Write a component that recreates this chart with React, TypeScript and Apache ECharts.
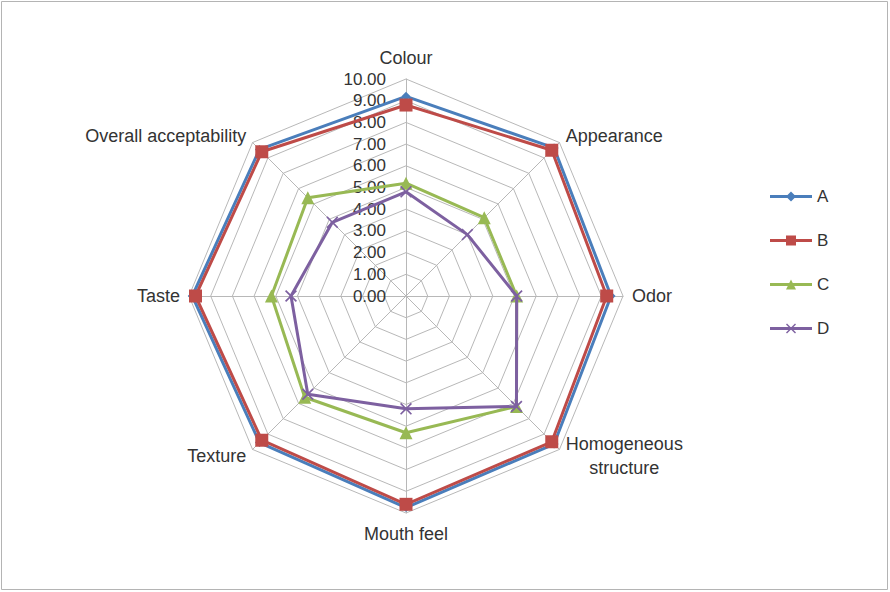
import React, { useEffect, useRef } from "react";
import * as echarts from "echarts";

// Sensory attributes, listed clockwise starting from the top
const categories = [
  "Colour",
  "Appearance",
  "Odor",
  "Homogeneous structure",
  "Mouth feel",
  "Texture",
  "Taste",
  "Overall acceptability",
];

const seriesNames = ["A", "B", "C", "D"];
const valuesA = [9.2, 9.65, 9.45, 9.65, 9.75, 9.55, 9.85, 9.55];
const valuesB = [8.8, 9.5, 9.25, 9.5, 9.6, 9.4, 9.7, 9.4];
const valuesC = [5.2, 5.1, 5.1, 7.2, 6.3, 6.6, 6.2, 6.4];
const valuesD = [4.8, 4.0, 5.1, 7.2, 5.2, 6.4, 5.3, 4.8];

const scaleMax = 10;
const scaleSteps = 10;

const colors = ["#4a7ebb", "#be4b48", "#98b954", "#7d60a0"];

// ECharts lays radar axes out counter-clockwise, so walk the list backwards after the first
const order = [0, ...Array.from({ length: categories.length - 1 }, (_, i) => categories.length - 1 - i)];
const reorder = (arr: number[]) => order.map((i) => arr[i]);

const FONT = "'Liberation Sans', Arial, sans-serif";
const TEXT = "#333333";

// Marker glyphs
const crossPath =
  "path://M0,1 L1,0 L5,4 L9,0 L10,1 L6,5 L10,9 L9,10 L5,6 L1,10 L0,9 L4,5 Z";
const symbols = ["diamond", "rect", "triangle", crossPath];
const symbolSizes = [9, 13, 13, 12];

// Legend icons: a short line with the series marker in the middle (42 x 10)
const lineBar = "M0,3.6 H42 V6.4 H0 Z";
const legendIcons = [
  "path://" + lineBar + " M21,0 L26,5 L21,10 L16,5 Z",
  "path://" + lineBar + " M16,0 H26 V10 H16 Z",
  "path://" + lineBar + " M21,0 L26,10 H16 Z",
  "path://" + lineBar +
    " M16,1 L17,0 L21,4 L25,0 L26,1 L22,5 L26,9 L25,10 L21,6 L17,10 L16,9 L20,5 Z",
];

export default function App() {
  const ref = useRef<HTMLDivElement>(null);

  useEffect(() => {
    if (!ref.current) return;
    const chart = echarts.init(ref.current, undefined, { renderer: "svg" });
    const allValues = [valuesA, valuesB, valuesC, valuesD];

    const indicator = reorder(categories.map((_, i) => i)).map((idx, k) => {
      const ind: any = { name: categories[idx], max: scaleMax, min: 0 };
      if (k === 0) {
        ind.axisLabel = {
          show: true,
          fontFamily: FONT,
          fontSize: 17,
          color: TEXT,
          margin: 20,
          formatter: (v: number) => Number(v).toFixed(2),
        };
      }
      return ind;
    });

    chart.setOption({
      animation: false,
      backgroundColor: "#ffffff",
      graphic: [
        {
          type: "rect",
          shape: { x: 1.5, y: 1.5, width: 886, height: 588 },
          style: { fill: "none", stroke: "#b4b4b4", lineWidth: 1 },
          silent: true,
        },
      ],
      legend: {
        orient: "vertical",
        left: 765,
        top: 183,
        itemWidth: 42,
        itemHeight: 10,
        itemGap: 27,
        textStyle: { fontFamily: FONT, fontSize: 17, color: TEXT },
        data: seriesNames.map((n, i) => ({
          name: n,
          icon: legendIcons[i],
          itemStyle: { color: colors[i] },
        })),
      },
      radar: {
        center: [406, 296],
        radius: 217,
        startAngle: 90,
        shape: "polygon",
        splitNumber: scaleSteps,
        indicator,
        nameGap: 9,
        axisName: {
          color: TEXT,
          fontFamily: FONT,
          fontSize: 18,
          formatter: (name: string) =>
            name === "Homogeneous structure"
              ? name.split(" ").map((w) => `{c|${w}}`).join("\n")
              : `{c|${name}}`,
          rich: {
            c: {
              align: "center",
              color: TEXT,
              fontFamily: FONT,
              fontSize: 18,
              lineHeight: 24,
            },
          },
        },
        axisLine: { lineStyle: { color: "#b8b8b8", width: 1 } },
        splitLine: { lineStyle: { color: "#b8b8b8", width: 1 } },
        splitArea: { show: false },
        axisTick: { show: false },
        axisLabel: { show: false },
      },
      series: seriesNames.map((n, i) => ({
        type: "radar",
        name: n,
        z: 2 + i,
        symbol: symbols[i],
        symbolSize: symbolSizes[i],
        lineStyle: { color: colors[i], width: 3 },
        itemStyle: { color: colors[i] },
        data: [{ name: n, value: reorder(allValues[i]) }],
      })),
    });

    return () => chart.dispose();
  }, []);

  return (
    <div
      ref={ref}
      style={{ position: "absolute", left: 0, top: 0, width: 890, height: 592 }}
    />
  );
}
